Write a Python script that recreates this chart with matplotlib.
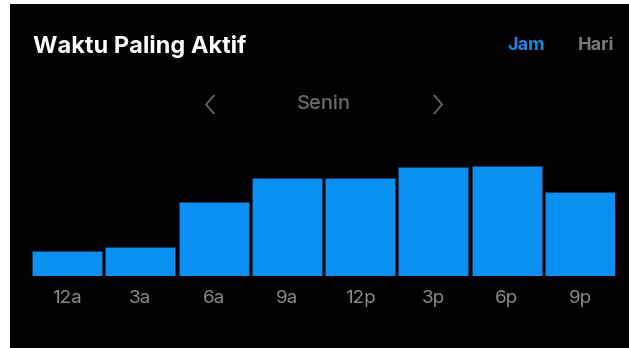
import matplotlib
matplotlib.use("Agg")
import matplotlib.pyplot as plt
from matplotlib.patches import Rectangle

categories = ["12a", "3a", "6a", "9a", "12p", "3p", "6p", "9p"]
values = [25, 29, 74, 98, 98, 109, 110, 84]

title_text = "Waktu Paling Aktif"
tab_active = "Jam"
tab_other = "Hari"
day_label = "Senin"

W, H = 629, 348
plt.rcParams["font.family"] = ["Inter", "DejaVu Sans"]
fig = plt.figure(figsize=(W / 100, H / 100), dpi=100)
fig.patch.set_facecolor("white")
fig.patches.append(Rectangle((10 / W, 0), 1, (H - 4) / H, transform=fig.transFigure,
                             facecolor="black", edgecolor="none", zorder=-10))

ax = fig.add_axes([32 / W, 72 / H, 583 / W, 120 / H])
ax.set_zorder(2)
ax.set_facecolor("none")
x = list(range(len(categories)))
ax.bar(x, values, width=0.955, color="#0A90F2", edgecolor="#0B3C66", linewidth=0.6)
ax.set_xlim(-0.4775, len(categories) - 1 + 0.4775)
ax.set_ylim(0, 120)
ax.set_yticks([])
ax.set_xticks(x)
ax.set_xticklabels(categories, color="#8A8A8A", fontsize=13.5)
ax.tick_params(axis="x", length=0, pad=10)
for s in ax.spines.values():
    s.set_visible(False)

def fy(py):
    return 1 - py / H

fig.text(33 / W, fy(46), title_text, color="white", fontsize=17, fontweight="bold",
         ha="left", va="center", zorder=3)
fig.text(526 / W, fy(46), tab_active, color="#1A86E0", fontsize=13, fontweight="bold",
         ha="center", va="center", zorder=3)
fig.text(596 / W, fy(46), tab_other, color="#7A7A7A", fontsize=13, fontweight="bold",
         ha="center", va="center", zorder=3)
fig.text(324 / W, fy(104), day_label, color="#6A6A6A", fontsize=14.5, fontweight="medium",
         ha="center", va="center", zorder=3)
fig.text(210 / W, fy(106), "‹", color="#6A6A6A", fontsize=30, fontweight="light",
         ha="center", va="center", zorder=3)
fig.text(437 / W, fy(106), "›", color="#6A6A6A", fontsize=30, fontweight="light",
         ha="center", va="center", zorder=3)

fig.savefig("out.png", dpi=100, facecolor=fig.get_facecolor())
